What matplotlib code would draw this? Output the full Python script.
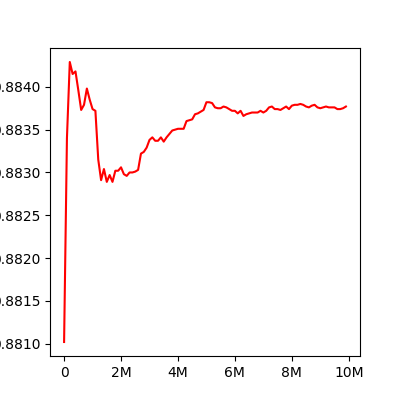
import matplotlib
matplotlib.use('Agg')
import matplotlib.pyplot as plt
from matplotlib.ticker import FuncFormatter, FormatStrFormatter

# step count (in millions) and running value
steps_m = [i / 10 for i in range(100)]
values = [
    0.88102, 0.88340, 0.88429, 0.88415, 0.88418, 0.88396, 0.88373, 0.88379, 0.88398, 0.88385,
    0.88374, 0.88372, 0.88315, 0.88291, 0.88304, 0.88289, 0.88297, 0.88289, 0.88302, 0.88302,
    0.88306, 0.88298, 0.88296, 0.88300, 0.88300, 0.88301, 0.88303, 0.88322, 0.88324, 0.88329,
    0.88338, 0.88341, 0.88337, 0.88337, 0.88341, 0.88336, 0.88341, 0.88345, 0.88349, 0.88350,
    0.88351, 0.88351, 0.88351, 0.88360, 0.88361, 0.88362, 0.88368, 0.88369, 0.88371, 0.88373,
    0.88382, 0.88382, 0.88381, 0.88376, 0.88375, 0.88375, 0.88377, 0.88376, 0.88374, 0.88372,
    0.88372, 0.88369, 0.88372, 0.88366, 0.88368, 0.88369, 0.88370, 0.88370, 0.88370, 0.88372,
    0.88370, 0.88372, 0.88376, 0.88377, 0.88374, 0.88374, 0.88373, 0.88375, 0.88377, 0.88374,
    0.88378, 0.88379, 0.88379, 0.88380, 0.88379, 0.88377, 0.88376, 0.88378, 0.88379, 0.88376,
    0.88375, 0.88376, 0.88377, 0.88376, 0.88376, 0.88376, 0.88374, 0.88374, 0.88375, 0.88377,
]

fig, ax = plt.subplots(figsize=(4, 4), dpi=100)
ax.plot([s * 1e6 for s in steps_m], values, color='red')

ax.set_xticks([0, 2e6, 4e6, 6e6, 8e6, 10e6])
ax.xaxis.set_major_formatter(FuncFormatter(lambda v, p: '0' if v == 0 else f'{v/1e6:.0f}M'))
ax.yaxis.set_major_formatter(FormatStrFormatter('%.4f'))

fig.savefig('out.png', dpi=100)
